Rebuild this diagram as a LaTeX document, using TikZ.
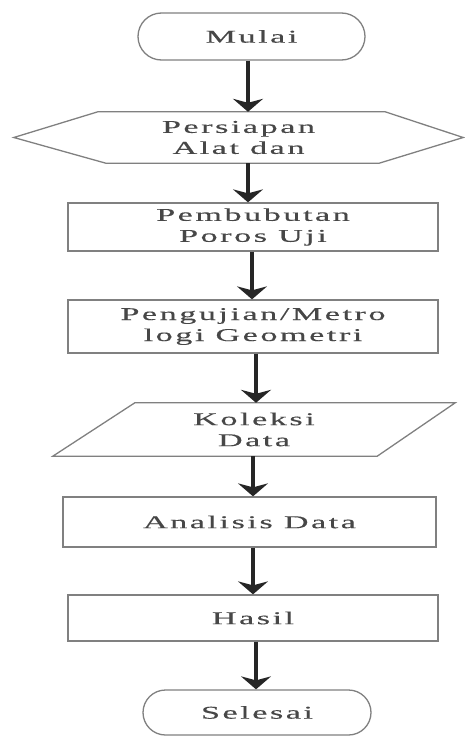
\documentclass[tikz,border=0pt]{standalone}
\usepackage{fontspec}
\setmainfont{Liberation Serif}[FakeStretch=1.9,LetterSpace=14,FakeBold=0.3]
\usetikzlibrary{shapes.misc,arrows.meta,calc}
\begin{document}
\begin{tikzpicture}[x=1pt,y=-1pt,
  shapeline/.style={draw=black!50, line width=1.3pt},
  txt/.style={font=\fontsize{18}{21}\selectfont, text=black!72, align=center},
  term/.style={rounded rectangle, shapeline, txt, minimum width=227pt, inner sep=0pt},
  proc/.style={rectangle, shapeline, txt, minimum width=370pt, inner sep=0pt},
  flow/.style={line width=3.5pt, draw=black!85, -{Stealth[length=13pt,width=30pt,inset=4pt]}}]
\useasboundingbox (0,0) rectangle (465,736);
\node[term, minimum height=47pt] (mulai) at (251.5,36.5) {Mulai};
\node[txt, minimum width=449pt, minimum height=51pt, inner sep=0pt] (alat) at (238.5,137.5) {Persiapan\\Alat dan};
\draw[shapeline] (alat.west) -- ([xshift=84pt]alat.north west) -- ([xshift=-78pt]alat.north east) -- (alat.east) -- ([xshift=-84pt]alat.south east) -- ([xshift=92pt]alat.south west) -- cycle;
\node[proc, minimum height=48pt] (bubut) at (253,227) {Pembubutan\\Poros Uji};
\node[proc, minimum height=53pt] (uji) at (253,326.5) {Pengujian/Metro\\logi Geometri};
\node[txt, minimum width=402pt, minimum height=53pt, inner sep=0pt] (kol) at (254,429.5) {Koleksi\\Data};
\draw[shapeline] (kol.south west) -- ([xshift=82pt]kol.north west) -- (kol.north east) -- ([xshift=-78pt]kol.south east) -- cycle;
\node[proc, minimum width=373pt, minimum height=50pt] (anal) at (249.5,522) {Analisis Data};
\node[proc, minimum height=46pt] (hasil) at (253,618) {Hasil};
\node[term, minimum width=228pt, minimum height=45pt] (selesai) at (257,712.5) {Selesai};
\draw[flow] (mulai.south -| 248,0) -- (alat.north -| 248,0);
\draw[flow] (alat.south -| 248,0) -- (bubut.north -| 248,0);
\draw[flow] (bubut.south -| 252,0) -- (uji.north -| 252,0);
\draw[flow] (uji.south -| 256,0) -- (kol.north -| 256,0);
\draw[flow] (kol.south -| 253,0) -- (anal.north -| 253,0);
\draw[flow] (anal.south -| 253,0) -- (hasil.north -| 253,0);
\draw[flow] (hasil.south -| 256,0) -- (selesai.north -| 256,0);
\end{tikzpicture}
\end{document}
